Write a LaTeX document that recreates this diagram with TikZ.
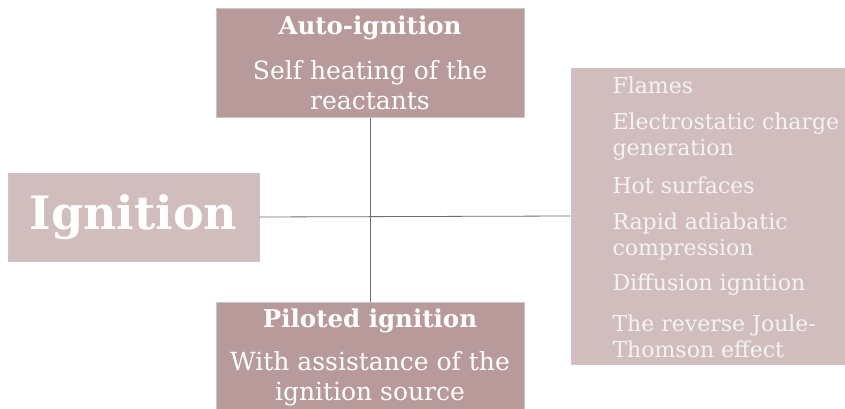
\documentclass[tikz,border=0pt]{standalone}
\usepackage{fontspec}
\setmainfont{DejaVu Serif}
\definecolor{darkbox}{RGB}{184,154,154}
\definecolor{lightbox}{RGB}{209,189,189}
\definecolor{boxline}{RGB}{200,200,200}
\definecolor{linkline}{RGB}{110,110,110}
\definecolor{softwhite}{RGB}{246,243,243}
\tikzset{
  box/.style={draw=boxline, line width=0.9pt, inner sep=0pt},
  darkfill/.style={box, fill=darkbox},
  lightfill/.style={box, fill=lightbox},
  head/.style={text=white, font=\fontsize{24.5}{28}\selectfont\bfseries, anchor=center},
  body/.style={text=white, font=\fontsize{25}{30}\selectfont, align=center, anchor=center},
  item/.style={text=softwhite, font=\fontsize{22}{26}\selectfont, align=left, anchor=west},
  link/.style={draw=linkline, line width=0.8pt}
}
\begin{document}
\begin{tikzpicture}[x=1pt,y=-1pt]
\useasboundingbox (0,0) rectangle (845,409);
\fill[white] (0,0) rectangle (845,409);
% boxes
\node[darkfill, minimum width=308pt, minimum height=109pt] (auto) at (370,63) {};
\node[lightfill, minimum width=251pt, minimum height=88pt] (ign) at (133.5,217) {};
\node[lightfill, minimum width=276pt, minimum height=296pt] (src) at (709,216) {};
\node[darkfill, minimum width=308pt, minimum height=112pt] (pil) at (370,358) {};
% connectors
\draw[link] (auto.south) -- (pil.north);
\draw[link] (ign.east) -- (src.west);
% texts
\node[head] (autoh) at (370,28) {Auto-ignition};
\node[body] (autob) at (370,85) {Self heating of the\\reactants};
\node[text=white, font=\fontsize{46}{50}\selectfont\bfseries, anchor=center] (ignt) at (133.5,217) {Ignition};
\node[head] (pilh) at (370,321) {Piloted ignition};
\node[body] (pilb) at (370,379) {With assistance of the\\ignition source};
\node[item] (i1) at (609,85) {Flames};
\node[item] (i2) at (609,137) {Electrostatic charge\\generation};
\node[item] (i3) at (609,185) {Hot surfaces};
\node[item] (i4) at (609,236) {Rapid adiabatic\\compression};
\node[item] (i5) at (609,285) {Diffusion ignition};
\node[item] (i6) at (609,336) {The reverse Joule-\\Thomson effect};
\end{tikzpicture}
\end{document}
